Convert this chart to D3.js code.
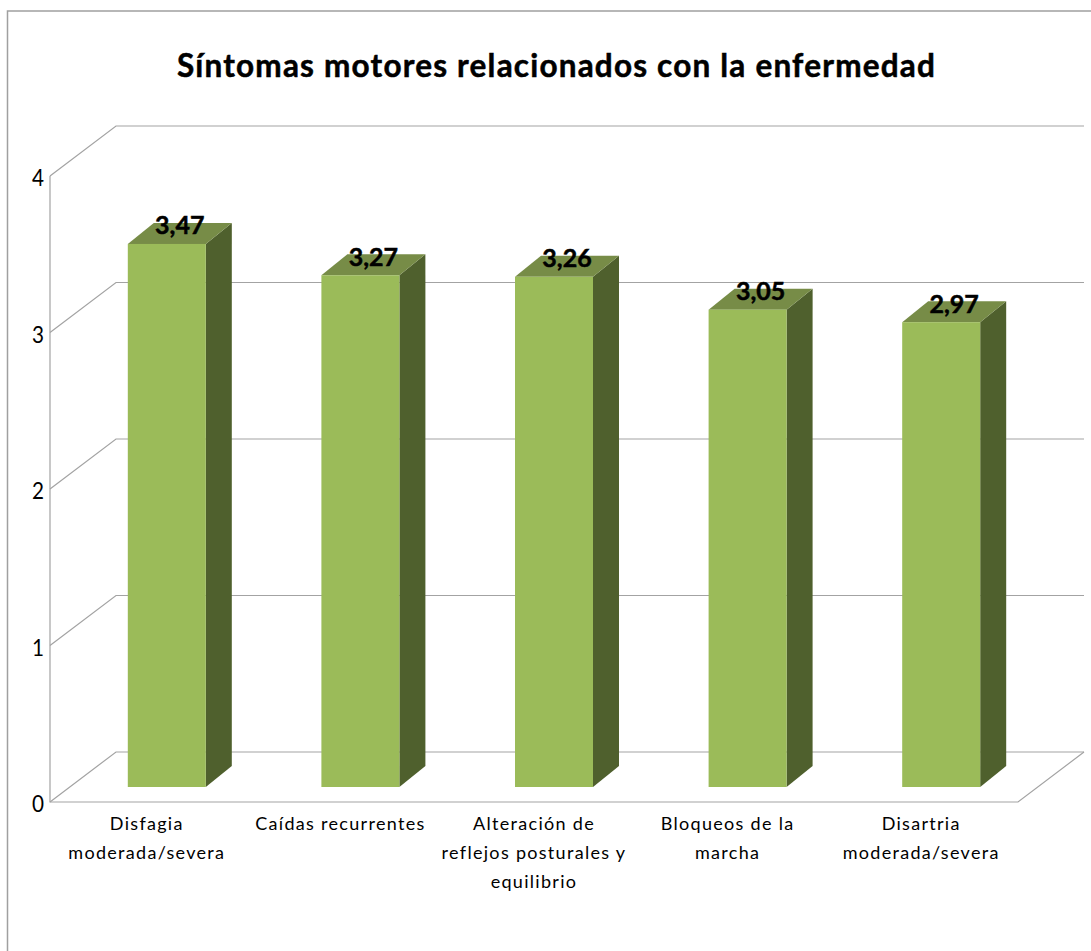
<!DOCTYPE html>
<html><head><meta charset="utf-8">
<script src="https://d3js.org/d3.v7.min.js"></script>
<style>html,body{margin:0;padding:0;background:#fff}svg{display:block}text{font-family:Lato,"Open Sans",sans-serif;fill:#000}</style>
</head><body><svg id="c" width="1091" height="951"></svg>
<script>
const categories=[["Disfagia","moderada/severa"],["Caídas recurrentes"],["Alteración de","reflejos posturales y","equilibrio"],["Bloqueos de la","marcha"],["Disartria","moderada/severa"]];
const values=[3.47,3.27,3.26,3.05,2.97];
const valueLabels=["3,47","3,27","3,26","3,05","2,97"];
const yTicks=[0,1,2,3,4];
const titleText="Síntomas motores relacionados con la enfermedad";

const svg=d3.select("#c");
const x=d3.scaleBand().domain(d3.range(categories.length)).range([50,1018]);
const y=d3.scaleLinear().domain([0,4]).range([802,176]);
const wallDx=66,wallDy=-50,barShift=20,barBase=-15,barW=78,barDx=26,barDy=-21;
const gridC="#a3a3a3";

svg.append("path").attr("d","M7.5,951V11H1091").attr("fill","none").attr("stroke","#a0a0a0").attr("stroke-width",1.5);
svg.append("text").attr("x",556.5).attr("y",77).attr("text-anchor","middle").attr("font-size",31.5).attr("font-weight",700).attr("letter-spacing",1.2).attr("stroke","#000").attr("stroke-width",0.5).text(titleText);

const grid=svg.append("g").attr("fill","none").attr("stroke",gridC).attr("stroke-width",1.2);
yTicks.forEach(t=>{
  const py=y(t);
  grid.append("path").attr("d",`M${x.range()[0]},${py}L${x.range()[0]+wallDx},${py+wallDy}H${x.range()[1]+wallDx}`);
});
grid.append("path").attr("d",`M50,${y(4)}V${y(0)}H1018L${1018+wallDx},${y(0)+wallDy}`);

const bars=svg.append("g").selectAll("g").data(values).join("g");
const bx=(d,i)=>x(i)+x.bandwidth()/2+barShift-barW/2;
const by=d=>y(d)+barBase;
const b0=y(0)+barBase;
bars.append("path").attr("fill","#4f602d").attr("d",(d,i)=>{const r=bx(d,i)+barW;return `M${r},${by(d)}l${barDx},${barDy}V${b0+barDy}L${r},${b0}Z`;});
bars.append("path").attr("fill","#778c47").attr("d",(d,i)=>{const l=bx(d,i);return `M${l},${by(d)}l${barDx},${barDy}h${barW}l${-barDx},${-barDy}Z`;});
bars.append("rect").attr("fill","#9bbb59").attr("x",bx).attr("y",by).attr("width",barW).attr("height",d=>b0-by(d));
bars.append("text").attr("x",(d,i)=>bx(d,i)+barW/2+barDx/2).attr("y",d=>by(d)-9.5).attr("text-anchor","middle").attr("font-size",25).attr("font-weight",700).attr("stroke","#000").attr("stroke-width",0.5).text((d,i)=>valueLabels[i]);

svg.append("g").selectAll("text").data(yTicks).join("text").attr("text-anchor","end").attr("font-size",23).attr("transform",d=>`translate(44,${y(d)+10}) scale(0.9,1)`).text(d=>d);

const cat=svg.append("g").selectAll("text").data(categories).join("text").attr("text-anchor","middle").attr("font-size",18).attr("letter-spacing",1.3);
cat.each(function(lines,i){
  d3.select(this).selectAll("tspan").data(lines).join("tspan").attr("x",x(i)+x.bandwidth()/2).attr("y",(l,j)=>830+j*29).text(l=>l);
});
</script></body></html>
